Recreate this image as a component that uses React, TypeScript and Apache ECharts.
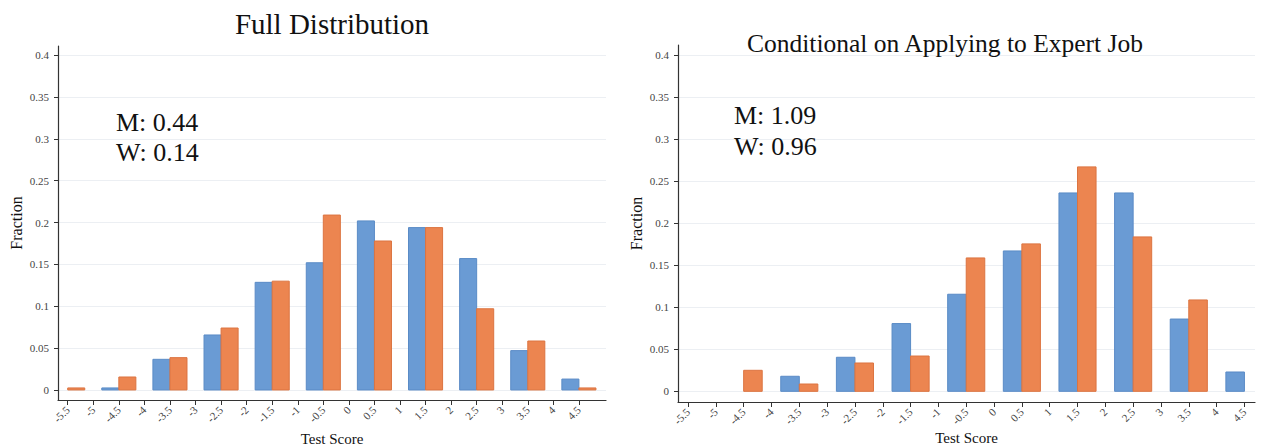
import React, { useEffect, useRef } from "react";
import * as echarts from "echarts";

// Bin centres (test score), one pair of bars per bin
const bins = [-5.5, -4.5, -3.5, -2.5, -1.5, -0.5, 0.5, 1.5, 2.5, 3.5, 4.5];

// Full distribution
const fullMen = [0, 0.0024, 0.0366, 0.0657, 0.1286, 0.152, 0.202, 0.194, 0.157, 0.047, 0.013];
const fullWomen = [0.0024, 0.0155, 0.0386, 0.074, 0.13, 0.209, 0.178, 0.194, 0.097, 0.0585, 0.0024];

// Conditional on applying to expert job
const expertMen = [0, 0, 0.0179, 0.0405, 0.0806, 0.1155, 0.167, 0.236, 0.236, 0.086, 0.023];
const expertWomen = [0, 0.025, 0.0087, 0.0337, 0.042, 0.1587, 0.1754, 0.267, 0.1837, 0.1087, 0];

// Tick labels
const xTickLabels = [-5.5, -5, -4.5, -4, -3.5, -3, -2.5, -2, -1.5, -1, -0.5, 0, 0.5, 1, 1.5, 2, 2.5, 3, 3.5, 4, 4.5];
const yTickLabels = [0, 0.05, 0.1, 0.15, 0.2, 0.25, 0.3, 0.35, 0.4];

const panelTitles = ["Full Distribution", "Conditional on Applying to Expert Job"];
const meanMen = ["0.44", "1.09"];
const meanWomen = ["0.14", "0.96"];

const BLUE = "#6a9bd4";
const BLUE_EDGE = "#5a8bc6";
const ORANGE = "#ec8550";
const ORANGE_EDGE = "#dc7440";
const SERIF = "'Liberation Serif', 'Times New Roman', serif";
const BAR_SPAN = 1 / 3;

function barSeries(name: string, values: number[], idx: number, side: number, color: string, edge: string) {
  return {
    type: "custom",
    name,
    xAxisIndex: idx,
    yAxisIndex: idx,
    data: bins.map((b, i) => [b, values[i]]),
    encode: { x: 0, y: 1 },
    renderItem: (_params: any, api: any) => {
      const x = api.value(0);
      const y = api.value(1);
      if (!y) return null;
      const x0 = side < 0 ? x - BAR_SPAN : x;
      const x1 = side < 0 ? x : x + BAR_SPAN;
      const p0 = api.coord([x0, y]);
      const p1 = api.coord([x1, 0]);
      return {
        type: "rect",
        shape: { x: p0[0], y: p0[1], width: p1[0] - p0[0], height: p1[1] - p0[1] },
        style: { fill: color, stroke: edge, lineWidth: 1 },
      };
    },
  };
}

function xAxisFor(idx: number, min: number, max: number, nameGap: number) {
  return {
    type: "value",
    gridIndex: idx,
    min,
    max,
    axisLine: { show: true, onZero: false, lineStyle: { color: "#333", width: 1.2 } },
    axisTick: { show: true, length: 5, customValues: xTickLabels, lineStyle: { color: "#333" } },
    axisLabel: {
      customValues: xTickLabels,
      rotate: 45,
      fontSize: 11,
      color: "#444",
      fontFamily: SERIF,
      margin: 8,
    },
    splitLine: { show: false },
    name: "Test Score",
    nameLocation: "middle",
    nameGap,
    nameMoveOverlap: false,
    nameTextStyle: { fontSize: 15, fontFamily: SERIF, color: "#111" },
  };
}

function yAxisFor(idx: number, min: number, max: number) {
  return {
    type: "value",
    gridIndex: idx,
    min,
    max,
    axisLine: { show: true, onZero: false, lineStyle: { color: "#333", width: 1.2 } },
    axisTick: { show: true, length: 4, customValues: yTickLabels, lineStyle: { color: "#333" } },
    axisLabel: { customValues: yTickLabels, fontSize: 11, color: "#444", fontFamily: SERIF, margin: 9 },
    splitLine: { show: true, lineStyle: { color: "#eceff3", width: 1 } },
    name: "Fraction",
    nameLocation: "middle",
    nameGap: 34,
    nameTextStyle: { fontSize: 16, fontFamily: SERIF, color: "#111" },
  };
}

export default function App() {
  const ref = useRef<HTMLDivElement>(null);
  useEffect(() => {
    if (!ref.current) return;
    const chart = echarts.init(ref.current, undefined, { renderer: "svg" });
    const textEl = (text: string, x: number, y: number, size: number, align: string) => ({
      type: "text",
      x,
      y,
      z: 10,
      style: { text, fontSize: size, fontFamily: SERIF, fill: "#111", align, verticalAlign: "middle" },
    });
    chart.setOption({
      animation: false,
      backgroundColor: "#ffffff",
      grid: [
        { left: 58, right: 655, top: 46, bottom: 46, containLabel: false, outerBoundsMode: "none" },
        { left: 678, right: 6, top: 45, bottom: 44, containLabel: false, outerBoundsMode: "none" },
      ],
      xAxis: [xAxisFor(0, -5.69, 5.03, 31), xAxisFor(1, -5.68, 4.69, 28)],
      yAxis: [yAxisFor(0, -0.012, 0.411), yAxisFor(1, -0.0127, 0.412)],
      series: [
        barSeries("M", fullMen, 0, -1, BLUE, BLUE_EDGE),
        barSeries("W", fullWomen, 0, 1, ORANGE, ORANGE_EDGE),
        barSeries("M", expertMen, 1, -1, BLUE, BLUE_EDGE),
        barSeries("W", expertWomen, 1, 1, ORANGE, ORANGE_EDGE),
      ],
      graphic: [
        textEl(panelTitles[0], 332, 24, 29, "center"),
        textEl(panelTitles[1], 945, 43, 25.5, "center"),
        textEl("M: " + meanMen[0], 116, 122, 26, "left"),
        textEl("W: " + meanWomen[0], 116, 152, 26, "left"),
        textEl("M: " + meanMen[1], 734, 115, 26, "left"),
        textEl("W: " + meanWomen[1], 734, 146, 26, "left"),
      ],
    });
    return () => chart.dispose();
  }, []);
  return (
    <div
      ref={ref}
      style={{ position: "absolute", left: 0, top: 0, width: 1261, height: 446, background: "#fff" }}
    />
  );
}
